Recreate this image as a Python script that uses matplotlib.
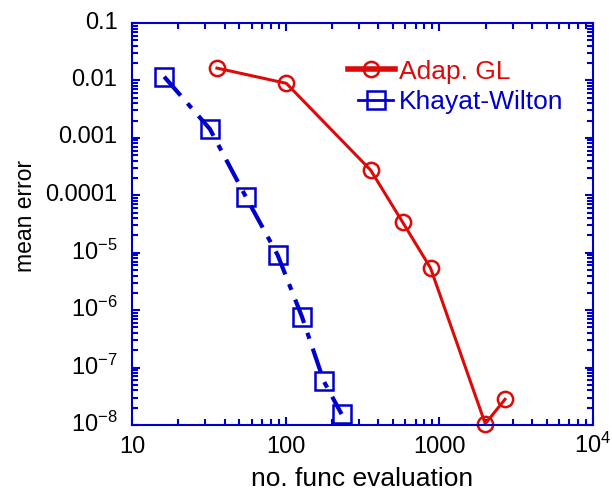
import matplotlib
matplotlib.use("Agg")
import matplotlib.pyplot as plt
import matplotlib.transforms as mtransforms
import numpy as np
from matplotlib.ticker import FixedLocator, FixedFormatter, LogLocator, NullFormatter

plt.rcParams['font.family'] = ['Liberation Sans', 'DejaVu Sans']
plt.rcParams['mathtext.fontset'] = 'custom'
plt.rcParams['mathtext.rm'] = 'Liberation Sans'

# error vs number of function evaluations
gl_evals = [35.7, 101, 357, 577, 877, 1990, 2673]
gl_error = [0.0164, 0.0089, 2.75e-4, 3.4e-5, 5.4e-6, 1.05e-8, 2.8e-8]

kw_evals = [16.2, 32.1, 55.2, 88.7, 127.6, 177, 231]
kw_error = [0.0116, 1.43e-3, 9.3e-5, 9.1e-6, 7.7e-7, 5.8e-8, 1.55e-8]

y_ticks = [0.1, 0.01, 0.001, 0.0001, 1e-5, 1e-6, 1e-7, 1e-8]
y_labels = ['0.1', '0.01', '0.001', '0.0001',
            r'$\mathregular{10^{-5}}$', r'$\mathregular{10^{-6}}$',
            r'$\mathregular{10^{-7}}$', r'$\mathregular{10^{-8}}$']
x_ticks = [10, 100, 1000, 10000]
x_labels = ['10', '100', '1000', r'$\mathregular{10^{4}}$']

red = '#dd0a0a'
blue = '#0000cc'

fig = plt.figure(figsize=(6.12, 4.97), dpi=100)
ax = fig.add_axes([132/612, 1 - 425/497, (593-132)/612, (425-23)/497])

ax.plot(gl_evals, gl_error, color=red, lw=2.2, marker='o', ms=11,
        mfc='none', mec=red, mew=1.8, label='Adap. GL', clip_on=False)
ax.plot(kw_evals, kw_error, color=blue, lw=3, dashes=[6, 2.5, 1.5, 2.5],
        marker='s', ms=12.5, mfc='none', mec=blue, mew=1.8,
        label='Khayat-Wilton', clip_on=False)

ax.set_xscale('log')
ax.set_yscale('log')
ax.set_xlim(10, 1e4)
ax.set_ylim(1e-8, 0.1)

ax.yaxis.set_major_locator(FixedLocator(y_ticks))
ax.yaxis.set_major_formatter(FixedFormatter(y_labels))
ax.xaxis.set_major_locator(FixedLocator(x_ticks))
ax.xaxis.set_major_formatter(FixedFormatter(x_labels))
ax.xaxis.set_minor_locator(LogLocator(base=10, subs=range(2, 10), numticks=20))
ax.yaxis.set_minor_locator(LogLocator(base=10, subs=range(2, 10), numticks=20))
ax.xaxis.set_minor_formatter(NullFormatter())
ax.yaxis.set_minor_formatter(NullFormatter())

for s in ax.spines.values():
    s.set_color(blue)
    s.set_linewidth(1.5)
ax.tick_params(which='both', direction='in', top=True, right=True, colors=blue,
               labelcolor='black', labelsize=17, width=1.5)
ax.tick_params(which='major', length=6)
ax.tick_params(which='minor', length=4)
ax.tick_params(axis='y', pad=10.5)
ax.tick_params(axis='x', pad=20)

# baseline-align x labels so the superscript doesn't push 10^4 down
for lbl in ax.get_xticklabels():
    lbl.set_va('baseline')
# lift y labels slightly above their ticks
lift = mtransforms.ScaledTranslation(0, 3/100, fig.dpi_scale_trans)
for lbl in ax.get_yticklabels():
    lbl.set_transform(lbl.get_transform() + lift)

ax.set_xlabel('no. func evaluation', fontsize=19)
ax.set_ylabel('mean error', fontsize=16.5)
ax.xaxis.set_label_coords(0.5, -0.105)
ax.yaxis.set_label_coords(-0.206, 0.52)

leg = fig.legend(loc='upper left', bbox_to_anchor=(337/612, 1 - 49/497),
                 borderaxespad=0, frameon=False, fontsize=19,
                 handlelength=1.8, handletextpad=0.15, labelspacing=0.25,
                 labelcolor='linecolor')
# thick red key line, short thin solid blue key line
h_gl, h_kw = leg.legend_handles
h_gl.set_linewidth(4)
h_kw.set_linestyle('-')
h_kw.set_linewidth(2)
xd = np.asarray(h_kw.get_xdata(), dtype=float)
w = xd[-1] - xd[0]
h_kw.set_xdata(np.linspace(xd[0] + 0.23 * w, xd[-1] - 0.04 * w, len(xd)))

fig.savefig('out.png', dpi=100)
